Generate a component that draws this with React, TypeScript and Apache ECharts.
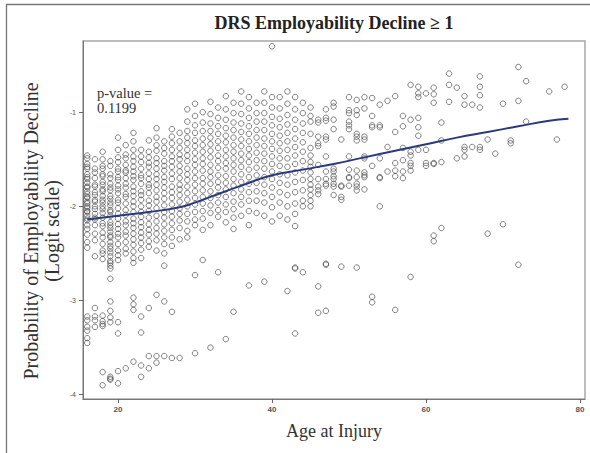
import React, { useEffect, useRef } from "react";
import * as echarts from "echarts";

const chartTitle = "DRS Employability Decline ≥ 1";
const xAxisTitle = "Age at Injury";
const yAxisTitle = ["Probability of Employability Decline", "(Logit scale)"];
const pValueLines = ["p-value =", "0.1199"];
const xTicks = [20, 40, 60, 80];
const yTicks = [-4, -3, -2, -1];

const ages = [
  16, 17, 18, 19, 20, 21, 22, 23, 24, 25, 26, 27, 28, 29, 30, 31, 32, 33, 34, 35,
  36, 37, 38, 39, 40, 41, 42, 43, 44, 45, 46, 47, 48, 49, 50, 51, 52, 53, 54, 55,
  56, 57, 58, 59, 60, 61, 62, 63, 64, 65, 66, 67, 68, 69, 70, 71, 72, 73, 76, 77, 78,
];

const logitByAge = [
  [-1.46, -1.49, -1.55, -1.58, -1.6, -1.66, -1.69, -1.71, -1.75, -1.79, -1.8, -1.84, -1.87, -1.9, -1.91, -1.95, -1.97, -2.0, -2.02, -2.05, -2.06, -2.1, -2.13, -2.15, -2.2, -2.24, -2.3, -2.38, -2.44, -3.17, -3.21, -3.28, -3.32, -3.4, -3.45],
  [-1.5, -1.6, -1.64, -1.7, -1.77, -1.79, -1.85, -1.88, -1.93, -1.95, -2.0, -2.03, -2.08, -2.12, -2.14, -2.2, -2.29, -2.36, -2.53, -3.08, -3.17, -3.21, -3.28],
  [-1.42, -1.5, -1.57, -1.6, -1.66, -1.68, -1.74, -1.77, -1.82, -1.84, -1.89, -1.93, -1.96, -2.0, -2.03, -2.07, -2.12, -2.18, -2.21, -2.28, -2.33, -2.4, -2.47, -2.5, -2.56, -3.16, -3.22, -3.25, -3.27, -3.76, -3.9],
  [-1.52, -1.57, -1.66, -1.7, -1.76, -1.8, -1.83, -1.89, -1.92, -1.96, -1.99, -2.04, -2.06, -2.1, -2.17, -2.2, -2.23, -2.27, -2.31, -2.33, -2.38, -2.42, -2.45, -2.49, -2.53, -2.58, -2.6, -2.63, -2.66, -2.77, -3.01, -3.11, -3.18, -3.23, -3.81, -3.83, -3.84],
  [-1.27, -1.4, -1.48, -1.53, -1.6, -1.63, -1.69, -1.72, -1.78, -1.82, -1.86, -1.93, -1.96, -2.02, -2.08, -2.13, -2.19, -2.24, -2.29, -2.33, -2.4, -2.47, -2.52, -2.57, -3.23, -3.35, -3.75, -3.88],
  [-1.35, -1.45, -1.49, -1.56, -1.62, -1.64, -1.7, -1.76, -1.8, -1.87, -1.9, -1.97, -2.04, -2.09, -2.16, -2.2, -2.27, -2.31, -2.38, -2.45, -2.5, -3.72],
  [-1.22, -1.31, -1.4, -1.47, -1.52, -1.58, -1.63, -1.68, -1.72, -1.79, -1.84, -1.89, -1.95, -2.0, -2.06, -2.13, -2.18, -2.23, -2.29, -2.35, -2.41, -2.48, -2.55, -2.6, -2.97, -3.04, -3.1, -3.65],
  [-1.4, -1.47, -1.53, -1.6, -1.67, -1.7, -1.76, -1.84, -1.88, -1.93, -2.0, -2.06, -2.11, -2.17, -2.22, -2.28, -2.33, -2.39, -2.46, -2.55, -3.17, -3.34, -3.69, -3.81],
  [-1.3, -1.42, -1.48, -1.54, -1.58, -1.65, -1.71, -1.77, -1.8, -1.86, -1.94, -1.99, -2.05, -2.12, -2.19, -2.25, -2.3, -2.37, -2.43, -3.08, -3.59, -3.72],
  [-1.17, -1.27, -1.35, -1.41, -1.49, -1.54, -1.6, -1.66, -1.71, -1.77, -1.83, -1.9, -1.95, -2.02, -2.1, -2.16, -2.23, -2.29, -2.36, -2.47, -2.94, -3.59, -3.66],
  [-1.31, -1.38, -1.44, -1.52, -1.57, -1.62, -1.69, -1.74, -1.8, -1.86, -1.92, -1.99, -2.06, -2.12, -2.19, -2.26, -2.33, -2.4, -2.5, -2.63, -3.01, -3.59],
  [-1.18, -1.26, -1.33, -1.4, -1.47, -1.52, -1.58, -1.65, -1.71, -1.79, -1.85, -1.91, -1.98, -2.05, -2.11, -2.18, -2.25, -2.33, -2.42, -3.12, -3.61],
  [-1.22, -1.31, -1.38, -1.45, -1.5, -1.57, -1.63, -1.7, -1.77, -1.82, -1.88, -1.95, -2.02, -2.08, -2.15, -2.23, -2.35, -3.61],
  [-0.97, -1.1, -1.2, -1.27, -1.33, -1.4, -1.46, -1.52, -1.6, -1.66, -1.72, -1.79, -1.86, -1.93, -2.0, -2.08, -2.16, -2.26, -2.33],
  [-0.91, -1.04, -1.14, -1.22, -1.3, -1.36, -1.43, -1.5, -1.56, -1.63, -1.7, -1.77, -1.84, -1.91, -1.98, -2.06, -2.14, -2.2, -2.73, -3.56],
  [-1.0, -1.11, -1.2, -1.28, -1.35, -1.42, -1.49, -1.55, -1.62, -1.7, -1.76, -1.83, -1.9, -1.97, -2.05, -2.13, -2.25, -2.57],
  [-0.89, -1.02, -1.12, -1.2, -1.27, -1.34, -1.41, -1.48, -1.56, -1.63, -1.69, -1.76, -1.84, -1.91, -1.99, -2.07, -2.2, -3.5],
  [-0.95, -1.06, -1.15, -1.23, -1.31, -1.38, -1.46, -1.52, -1.59, -1.67, -1.74, -1.8, -1.88, -1.96, -2.04, -2.11, -2.7],
  [-0.83, -0.97, -1.08, -1.17, -1.25, -1.32, -1.4, -1.47, -1.54, -1.6, -1.68, -1.75, -1.82, -1.9, -1.98, -2.06, -2.17, -3.41],
  [-0.9, -1.01, -1.11, -1.19, -1.27, -1.35, -1.42, -1.49, -1.56, -1.63, -1.71, -1.78, -1.86, -1.95, -2.03, -2.12, -2.24, -3.12],
  [-0.78, -0.91, -1.02, -1.12, -1.21, -1.29, -1.36, -1.44, -1.51, -1.58, -1.66, -1.74, -1.82, -1.9, -1.98, -2.1],
  [-0.84, -0.96, -1.06, -1.15, -1.23, -1.31, -1.39, -1.46, -1.53, -1.61, -1.69, -1.76, -1.85, -1.94, -2.05, -2.2, -2.84],
  [-0.9, -1.01, -1.1, -1.19, -1.27, -1.35, -1.43, -1.51, -1.59, -1.67, -1.75, -1.84, -1.94, -2.07],
  [-0.78, -0.9, -1.01, -1.1, -1.19, -1.28, -1.36, -1.44, -1.52, -1.6, -1.69, -1.77, -1.86, -1.96, -2.1, -2.8],
  [-0.3, -0.84, -0.95, -1.05, -1.14, -1.23, -1.31, -1.39, -1.47, -1.55, -1.63, -1.71, -1.8, -1.9, -2.01, -2.16],
  [-0.84, -0.96, -1.07, -1.16, -1.25, -1.33, -1.41, -1.49, -1.57, -1.66, -1.75, -1.85, -1.96, -2.1],
  [-0.78, -0.91, -1.03, -1.13, -1.22, -1.31, -1.4, -1.49, -1.58, -1.67, -1.77, -1.88, -2.0, -2.14, -2.9],
  [-0.84, -0.97, -1.08, -1.18, -1.28, -1.37, -1.46, -1.55, -1.64, -1.74, -1.85, -1.97, -2.08, -2.21, -2.65, -2.66, -3.35],
  [-0.9, -1.01, -1.12, -1.22, -1.32, -1.42, -1.52, -1.62, -1.72, -1.83, -1.94, -2.0, -2.7],
  [-0.95, -1.04, -1.1, -1.23, -1.38, -1.46, -1.53, -1.58, -1.64, -1.71, -1.77, -1.82, -1.88, -1.94, -2.0],
  [-1.08, -1.11, -1.26, -1.33, -1.36, -1.56, -1.71, -1.79, -1.83, -1.87, -2.85, -3.13],
  [-0.97, -1.06, -1.09, -1.26, -1.29, -1.47, -1.63, -1.71, -1.76, -1.78, -2.61, -2.62, -3.11],
  [-0.9, -0.94, -1.08, -1.18, -1.6, -1.63, -1.68, -1.71, -1.76, -1.79, -1.88],
  [-1.29, -1.78, -1.79, -1.9, -1.93, -2.64],
  [-0.84, -0.98, -1.01, -1.1, -1.14, -1.18, -1.47, -1.61, -1.69, -1.7, -1.78],
  [-0.87, -0.98, -1.03, -1.23, -1.26, -1.3, -1.62, -1.69, -1.76, -1.79, -1.83, -2.65],
  [-0.84, -0.96, -1.26, -1.29, -1.47, -1.49, -1.64, -1.67, -1.69, -1.82],
  [-0.85, -1.04, -1.14, -1.16, -1.57, -2.96, -3.02],
  [-0.92, -1.14, -1.16, -1.49, -1.69, -1.7, -2.0],
  [-0.88, -1.37, -1.63],
  [-0.83, -1.21, -1.54, -1.62, -1.68, -3.1],
  [-1.04, -1.15, -1.38, -1.51, -1.63, -1.7],
  [-0.71, -1.08, -1.42, -1.46, -1.54, -1.57, -1.62, -2.75],
  [-0.73, -0.8, -0.84, -1.06, -1.16, -1.25, -1.4],
  [-0.8, -1.4, -1.54, -1.57],
  [-0.74, -0.81, -0.9, -1.54, -1.55, -2.31, -2.37],
  [-1.11, -1.3, -1.53, -2.23],
  [-0.59, -0.71, -0.89],
  [-0.74, -1.49],
  [-0.83, -0.92, -1.37, -1.4, -1.47],
  [-0.92, -1.37],
  [-0.62, -0.73, -0.82, -0.95, -1.37, -1.4],
  [-1.29, -2.29],
  [-1.44],
  [-0.91, -2.19],
  [-1.3, -1.33],
  [-0.52, -0.88, -2.62],
  [-0.67, -1.1],
  [-0.78],
  [-1.29],
  [-0.73],
];

const fitAges = [16, 20, 24, 28, 30, 32, 36, 40, 44, 48, 52, 56, 60, 64, 68, 72, 76, 78.5];
const fitLogit = [-2.14, -2.1, -2.06, -2.01, -1.96, -1.9, -1.78, -1.67, -1.61, -1.55, -1.48, -1.41, -1.34, -1.27, -1.21, -1.15, -1.09, -1.07];

const SERIF = "'Liberation Serif', 'Times New Roman', serif";
const SANS = "'Liberation Sans', Arial, sans-serif";

export default function App() {
  const ref = useRef<HTMLDivElement>(null);
  useEffect(() => {
    if (!ref.current) return;
    const chart = echarts.init(ref.current, undefined, { renderer: "svg" });
    const points: number[][] = [];
    ages.forEach((a, i) => {
      logitByAge[i].forEach((v) => points.push([a, v]));
    });
    const fit = fitAges.map((a, i) => [a, fitLogit[i]]);
    chart.setOption({
      animation: false,
      backgroundColor: "#ffffff",
      grid: {
        left: 83,
        top: 41,
        width: 502,
        height: 358,
        show: true,
        borderColor: "#a8a8a8",
        borderWidth: 1.5,
        backgroundColor: "transparent",
      },
      xAxis: {
        type: "value",
        min: 15.45,
        max: 80.65,
        splitLine: { show: false },
        axisLine: { show: true, onZero: false, lineStyle: { color: "#777", width: 1 } },
        axisTick: { show: true, length: 4, customValues: xTicks, lineStyle: { color: "#666" } },
        axisLabel: {
          customValues: xTicks,
          fontSize: 8,
          fontWeight: "bold",
          color: "#555",
          fontFamily: SANS,
          margin: 6,
        },
      },
      yAxis: {
        type: "value",
        min: -4.046,
        max: -0.244,
        splitLine: { show: false },
        axisLine: { show: true, onZero: false, lineStyle: { color: "#777", width: 1 } },
        axisTick: { show: true, length: 4, customValues: yTicks, lineStyle: { color: "#666" } },
        axisLabel: {
          customValues: yTicks,
          fontSize: 7,
          color: "#555",
          fontFamily: SANS,
          margin: 7,
        },
      },
      graphic: [
        {
          type: "rect",
          shape: { x: 6.5, y: 4.5, width: 700, height: 700 },
          style: { fill: "none", stroke: "#777", lineWidth: 1.3 },
          silent: true,
        },
        {
          type: "text",
          x: 334,
          y: 23,
          style: {
            text: chartTitle,
            fontFamily: SERIF,
            fontSize: 18,
            fontWeight: "bold",
            fill: "#222",
            align: "center",
            verticalAlign: "middle",
          },
        },
        {
          type: "text",
          x: 334,
          y: 431,
          style: {
            text: xAxisTitle,
            fontFamily: SERIF,
            fontSize: 18,
            fill: "#333",
            align: "center",
            verticalAlign: "middle",
          },
        },
        {
          type: "text",
          x: 41,
          y: 231,
          rotation: Math.PI / 2,
          style: {
            text: yAxisTitle.join("\n"),
            fontFamily: SERIF,
            fontSize: 20,
            lineHeight: 21,
            fill: "#333",
            align: "center",
            verticalAlign: "middle",
          },
        },
        {
          type: "text",
          x: 97,
          y: 100.7,
          z: 10,
          style: {
            text: pValueLines.join("\n"),
            fontFamily: SERIF,
            fontSize: 14.5,
            lineHeight: 15,
            fill: "#333",
            align: "left",
            verticalAlign: "middle",
          },
        },
      ],
      series: [
        {
          type: "scatter",
          data: points,
          symbol: "circle",
          symbolSize: 5.5,
          itemStyle: {
            color: "rgba(0,0,0,0)",
            borderColor: "#3c3c3c",
            borderWidth: 0.8,
          },
          z: 2,
        },
        {
          type: "line",
          data: fit,
          smooth: true,
          showSymbol: false,
          symbol: "none",
          lineStyle: { color: "#2a3a7c", width: 2 },
          z: 3,
        },
      ],
    });
    return () => chart.dispose();
  }, []);
  return (
    <div
      ref={ref}
      style={{ position: "fixed", left: 0, top: 0, width: 590, height: 453, background: "#fff" }}
    />
  );
}
